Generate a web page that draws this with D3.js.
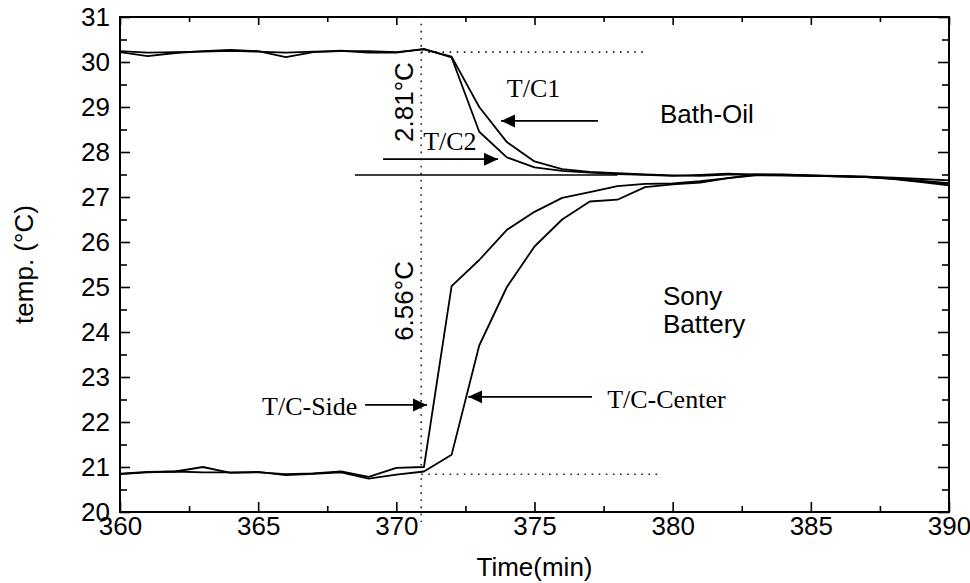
<!DOCTYPE HTML>
<html>

<head>
  <meta charset="utf-8">
  <title>temp vs time</title>
  <script src="https://d3js.org/d3.v7.min.js"></script>
  <style>
    body { margin: 0; background: #fff; }
    .sans { font-family: "Liberation Sans", Arial, sans-serif; font-size: 26px; fill: #000; }
    .serif { font-family: "Liberation Serif", "Times New Roman", serif; font-size: 26px; fill: #000; }
  </style>
</head>

<body>
  <script>
    // sample times (min)
    const times = [360, 361, 362, 363, 364, 365, 366, 367, 368, 369, 370,
      371, 372, 373, 374, 375, 376, 377, 378, 379, 380,
      381, 382, 383, 384, 385, 386, 387, 388, 389, 390];

    // bath-oil thermocouples
    const tc1 = [30.24, 30.21, 30.22, 30.23, 30.25, 30.23, 30.21, 30.23, 30.24, 30.24, 30.22,
      30.28, 30.12, 29.0, 28.22, 27.79, 27.62, 27.56, 27.53, 27.5, 27.48,
      27.47, 27.5, 27.5, 27.49, 27.48, 27.47, 27.45, 27.43, 27.4, 27.37];
    const tc2 = [30.22, 30.13, 30.2, 30.24, 30.27, 30.24, 30.11, 30.22, 30.25, 30.21, 30.21,
      30.29, 30.1, 28.45, 27.88, 27.66, 27.58, 27.54, 27.51, 27.49, 27.47,
      27.49, 27.52, 27.49, 27.48, 27.47, 27.46, 27.44, 27.41, 27.36, 27.31];

    // battery thermocouples
    const tcSide = [20.85, 20.89, 20.9, 20.88, 20.88, 20.88, 20.84, 20.86, 20.9, 20.78, 20.98,
      21.0, 25.02, 25.6, 26.27, 26.67, 26.98, 27.11, 27.24, 27.29, 27.3,
      27.35, 27.42, 27.48, 27.48, 27.47, 27.46, 27.44, 27.4, 27.33, 27.26];
    const tcCenter = [20.84, 20.88, 20.9, 21.0, 20.87, 20.89, 20.82, 20.85, 20.88, 20.74, 20.83,
      20.9, 21.27, 23.7, 25.0, 25.9, 26.5, 26.9, 26.94, 27.22, 27.28,
      27.32, 27.42, 27.5, 27.5, 27.48, 27.46, 27.45, 27.41, 27.35, 27.29];

    const xMajor = [360, 365, 370, 375, 380, 385, 390];
    const xMinor = [362.5, 367.5, 372.5, 377.5, 382.5, 387.5];
    const yMajor = [20, 21, 22, 23, 24, 25, 26, 27, 28, 29, 30, 31];
    const yMinor = [20.5, 21.5, 22.5, 23.5, 24.5, 25.5, 26.5, 27.5, 28.5, 29.5, 30.5];

    const W = 970, H = 583;
    const svg = d3.select('body').append('svg')
      .attr('width', W)
      .attr('height', H);

    const x = d3.scaleLinear().domain([360, 390]).range([120, 949]);
    const y = d3.scaleLinear().domain([20, 31]).range([512, 17]);

    // axes, ticks point inward
    const axes = svg.append('g');
    const bottom = axes.append('g').attr('transform', `translate(0,${y(20)})`)
      .call(d3.axisBottom(x).tickValues(xMajor).tickSize(-10).tickPadding(5).tickFormat(d3.format('d')));
    axes.append('g').attr('transform', `translate(0,${y(20)})`)
      .call(d3.axisBottom(x).tickValues(xMinor).tickSize(-6).tickFormat(''));
    axes.append('g').attr('transform', `translate(0,${y(31)})`)
      .call(d3.axisTop(x).tickValues(xMajor).tickSize(-8).tickFormat(''));
    axes.append('g').attr('transform', `translate(0,${y(31)})`)
      .call(d3.axisTop(x).tickValues(xMinor).tickSize(-5).tickFormat(''));
    const left = axes.append('g').attr('transform', `translate(${x(360)},0)`)
      .call(d3.axisLeft(y).tickValues(yMajor).tickSize(-10).tickPadding(10).tickFormat(d3.format('d')));
    axes.append('g').attr('transform', `translate(${x(360)},0)`)
      .call(d3.axisLeft(y).tickValues(yMinor).tickSize(-7).tickFormat(''));
    axes.append('g').attr('transform', `translate(${x(390)},0)`)
      .call(d3.axisRight(y).tickValues(yMajor).tickSize(-11).tickFormat(''));
    axes.append('g').attr('transform', `translate(${x(390)},0)`)
      .call(d3.axisRight(y).tickValues(yMinor).tickSize(-7).tickFormat(''));

    axes.selectAll('.domain').remove();
    axes.selectAll('.tick line').attr('stroke', '#000').attr('stroke-width', 1.6);
    axes.selectAll('.tick text').attr('class', 'sans').attr('font-size', null).attr('font-family', null);

    svg.append('rect')
      .attr('x', x(360)).attr('y', y(31))
      .attr('width', x(390) - x(360)).attr('height', y(20) - y(31))
      .attr('fill', 'none').attr('stroke', '#000').attr('stroke-width', 2);

    svg.append('text').attr('class', 'sans')
      .attr('text-anchor', 'middle')
      .attr('x', x(375)).attr('y', 576)
      .text('Time(min)');
    svg.append('text').attr('class', 'sans')
      .attr('text-anchor', 'middle')
      .attr('transform', `translate(33,${y(25.5)}) rotate(-90)`)
      .text('temp. (°C)');

    // dotted guides
    const dotted = (x1, y1, x2, y2) => svg.append('line')
      .attr('x1', x1).attr('y1', y1).attr('x2', x2).attr('y2', y2)
      .attr('stroke', '#222').attr('stroke-width', 1.6)
      .attr('stroke-dasharray', '1.6,5.5');
    dotted(x(370.9), y(30.85), x(370.9), y(20) + 10);
    dotted(x(370.9), y(30.22), x(379.1), y(30.22));
    dotted(x(370.9), y(20.84), x(379.5), y(20.84));

    // reference level
    svg.append('line')
      .attr('x1', x(368.5)).attr('x2', x(378))
      .attr('y1', y(27.49)).attr('y2', y(27.49))
      .attr('stroke', '#000').attr('stroke-width', 1.6);

    // curves
    const line = d3.line().x(d => x(d[0])).y(d => y(d[1]));
    [tc1, tc2, tcSide, tcCenter].forEach(s => {
      svg.append('path')
        .datum(times.map((t, i) => [t, s[i]]))
        .attr('d', line)
        .attr('fill', 'none')
        .attr('stroke', '#000')
        .attr('stroke-width', 1.8)
        .attr('stroke-linejoin', 'round');
    });

    // arrows
    svg.append('defs').append('marker')
      .attr('id', 'head')
      .attr('viewBox', '-14 -7 15 14')
      .attr('markerWidth', 15).attr('markerHeight', 14)
      .attr('markerUnits', 'userSpaceOnUse')
      .attr('refX', 0).attr('refY', 0)
      .attr('orient', 'auto')
      .append('path').attr('d', 'M0,0L-14,-6.5L-14,6.5Z').attr('fill', '#000');

    const arrow = (t0, v0, t1, v1) => svg.append('line')
      .attr('x1', x(t0)).attr('y1', y(v0)).attr('x2', x(t1)).attr('y2', y(v1))
      .attr('stroke', '#000').attr('stroke-width', 1.8)
      .attr('marker-end', 'url(#head)');
    arrow(377.3, 28.69, 373.79, 28.69);
    arrow(369.52, 27.84, 373.68, 27.84);
    arrow(368.87, 22.38, 371.11, 22.38);
    arrow(377.08, 22.56, 372.6, 22.56);

    // labels
    const label = (cls, t, v, txt) => svg.append('text').attr('class', cls)
      .attr('x', x(t)).attr('y', y(v)).text(txt);
    label('serif', 374.0, 29.22, 'T/C1');
    label('serif', 370.97, 28.04, 'T/C2');
    label('serif', 365.14, 22.16, 'T/C-Side');
    label('serif', 377.63, 22.31, 'T/C-Center');
    label('sans', 379.54, 28.64, 'Bath-Oil');
    label('sans', 379.65, 24.6, 'Sony');
    label('sans', 379.65, 23.98, 'Battery');

    svg.append('text').attr('class', 'sans')
      .attr('text-anchor', 'middle')
      .attr('transform', `translate(${x(370.9) - 8},${y(29.11)}) rotate(-90)`)
      .text('2.81°C');
    svg.append('text').attr('class', 'sans')
      .attr('text-anchor', 'middle')
      .attr('transform', `translate(${x(370.9) - 8},${y(24.69)}) rotate(-90)`)
      .text('6.56°C');
  </script>
</body>

</html>
